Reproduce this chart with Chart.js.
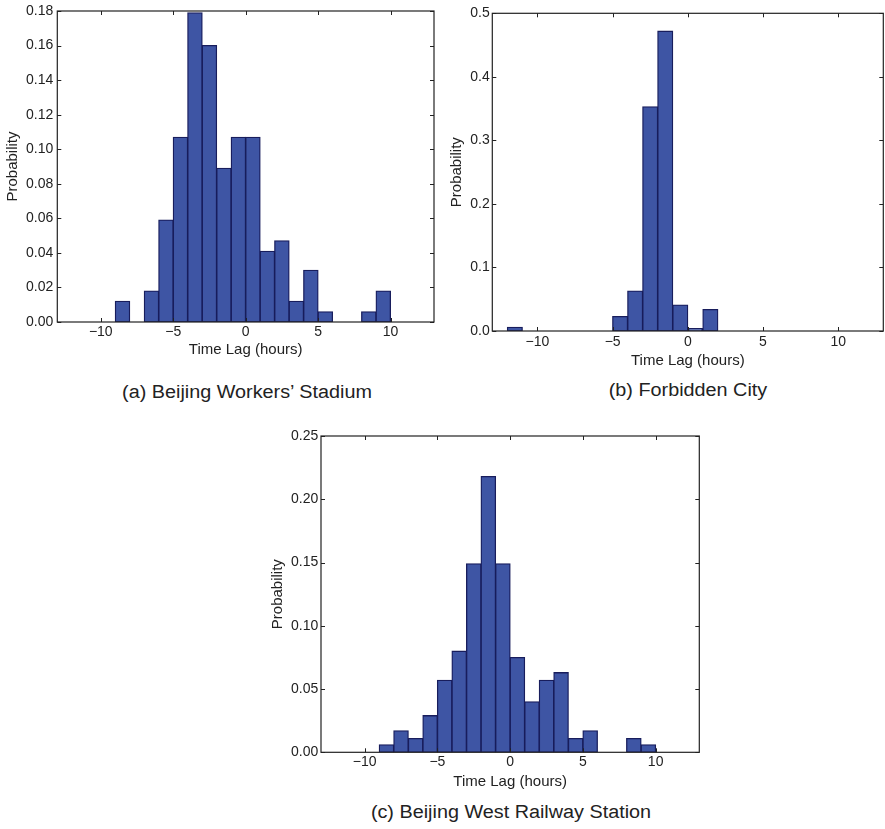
<!DOCTYPE html>
<html>
<head>
<meta charset="utf-8">
<script src="https://cdn.jsdelivr.net/npm/chart.js@4.4.1/dist/chart.umd.min.js"></script>
<style>
  body { margin: 0; background: #fff; }
  #page { position: relative; width: 885px; height: 829px; overflow: hidden; font-family: "Liberation Sans", Arial, Helvetica, sans-serif; color: #222; }
  .panel { position: absolute; }
  .cap { position: absolute; font-size: 18px; white-space: nowrap; transform: translate(-50%, -50%) scaleX(1.1); }
</style>
</head>
<body>
<div id="page">
  <div class="panel" style="left:0;top:0;width:440px;height:360px"><canvas id="chartA"></canvas></div>
  <div class="panel" style="left:440px;top:0;width:445px;height:370px"><canvas id="chartB"></canvas></div>
  <div class="panel" style="left:260px;top:420px;width:450px;height:371px"><canvas id="chartC"></canvas></div>
  <div class="cap" style="left:247px;top:392px">(a) Beijing Workers’ Stadium</div>
  <div class="cap" style="left:688px;top:390px">(b) Forbidden City</div>
  <div class="cap" style="left:511px;top:812px">(c) Beijing West Railway Station</div>
</div>
<script>
// bin centres, 1 hour wide bins from -13 to 13
const lagBins = [-12.5, -11.5, -10.5, -9.5, -8.5, -7.5, -6.5, -5.5, -4.5, -3.5, -2.5, -1.5, -0.5,
                 0.5, 1.5, 2.5, 3.5, 4.5, 5.5, 6.5, 7.5, 8.5, 9.5, 10.5, 11.5, 12.5];

// (a) Beijing Workers' Stadium
const probWorkers = [0, 0, 0, 0, 0.012, 0, 0.018, 0.059, 0.107, 0.179, 0.160, 0.089, 0.107,
                     0.107, 0.041, 0.047, 0.012, 0.030, 0.006, 0, 0, 0.006, 0.018, 0, 0, 0];
// (b) Forbidden City
const probForbidden = [0, 0.006, 0, 0, 0, 0, 0, 0, 0.023, 0.063, 0.353, 0.472, 0.041,
                       0.004, 0.034, 0, 0, 0, 0, 0, 0, 0, 0, 0, 0, 0];
// (c) Beijing West Railway Station
const probWestRail = [0, 0, 0, 0, 0.006, 0.017, 0.011, 0.029, 0.057, 0.080, 0.149, 0.218, 0.149,
                      0.075, 0.040, 0.057, 0.063, 0.011, 0.017, 0, 0, 0.011, 0.006, 0, 0, 0];

const xTicks = [-10, -5, 0, 5, 10];
const yTicksA = [0, 0.02, 0.04, 0.06, 0.08, 0.10, 0.12, 0.14, 0.16, 0.18];
const yTicksB = [0, 0.1, 0.2, 0.3, 0.4, 0.5];
const yTicksC = [0, 0.05, 0.10, 0.15, 0.20, 0.25];

const FILL = "#3e55a4";
const EDGE = "#181d5c";
const INK = "#222";

Chart.defaults.font.family = '"Liberation Sans", Arial, Helvetica, sans-serif';
Chart.defaults.color = INK;

// matplotlib style frame with inward ticks on all four sides
const frameTicksPlugin = {
  id: "frameTicks",
  afterDraw(chart) {
    const { ctx, chartArea: a, scales } = chart;
    const len = 4;
    ctx.save();
    ctx.strokeStyle = INK;
    ctx.lineWidth = 1;
    ctx.beginPath();
    for (const t of scales.x.ticks) {
      const x = Math.round(scales.x.getPixelForValue(t.value)) + 0.5;
      ctx.moveTo(x, a.bottom); ctx.lineTo(x, a.bottom - len);
      ctx.moveTo(x, a.top); ctx.lineTo(x, a.top + len);
    }
    for (const t of scales.y.ticks) {
      const y = Math.round(scales.y.getPixelForValue(t.value)) + 0.5;
      ctx.moveTo(a.left, y); ctx.lineTo(a.left + len, y);
      ctx.moveTo(a.right, y); ctx.lineTo(a.right - len, y);
    }
    ctx.stroke();
    ctx.lineWidth = 1.2;
    ctx.strokeRect(a.left, a.top, a.right - a.left, a.bottom - a.top);
    ctx.restore();
  }
};

function minus(v) {
  return v < 0 ? "\u2212" + Math.abs(v) : String(v);
}

function makeHist(id, probs, yTicks, decimals, lay) {
  new Chart(document.getElementById(id), {
    type: "bar",
    data: {
      datasets: [{
        data: lagBins.map((x, i) => ({ x, y: probs[i] })),
        backgroundColor: FILL,
        borderColor: EDGE,
        borderWidth: 1.3,
        borderSkipped: false,
        inflateAmount: 0.5,
        barPercentage: 1,
        categoryPercentage: 1
      }]
    },
    options: {
      animation: false,
      responsive: true,
      maintainAspectRatio: false,
      layout: { padding: { top: lay.top, right: lay.right, left: 0, bottom: 0 } },
      plugins: { legend: { display: false }, tooltip: { enabled: false } },
      scales: {
        x: {
          type: "linear",
          min: -13, max: 13,
          offset: false,
          grid: { display: false, drawTicks: false },
          border: { display: false },
          afterBuildTicks: s => { s.ticks = xTicks.map(v => ({ value: v })); },
          afterFit: s => { s.height = lay.xh; },
          ticks: { padding: lay.xpad, font: { size: 14, lineHeight: 1 }, color: INK, callback: v => minus(v), maxRotation: 0 },
          title: { display: true, text: "Time Lag (hours)", color: INK, font: { size: 15, lineHeight: 1 }, padding: { top: 0, bottom: lay.tpad } }
        },
        y: {
          min: 0, max: yTicks[yTicks.length - 1],
          grid: { display: false, drawTicks: false },
          border: { display: false },
          afterBuildTicks: s => { s.ticks = yTicks.map(v => ({ value: v })); },
          afterFit: s => { s.width = lay.yw; },
          ticks: { padding: lay.ypad, font: { size: 14, lineHeight: 1 }, color: INK, callback: v => v.toFixed(decimals) },
          title: { display: true, text: "Probability", color: INK, font: { size: 15, lineHeight: 1 }, padding: { top: lay.ytpad, bottom: 0 } }
        }
      }
    },
    plugins: [frameTicksPlugin]
  });
}

makeHist("chartA", probWorkers, yTicksA, 2, { top: 8, right: 6, xh: 38, xpad: 3, tpad: 2.5, yw: 57.3, ypad: 4, ytpad: 5.5 });
makeHist("chartB", probForbidden, yTicksB, 1, { top: 13.3, right: 1.7, xh: 39, xpad: 3.7, tpad: 1.5, yw: 52.3, ypad: 2.5, ytpad: 9.2 });
makeHist("chartC", probWestRail, yTicksC, 2, { top: 16, right: 10.7, xh: 38.7, xpad: 2.4, tpad: 1.8, yw: 61, ypad: 2.7, ytpad: 10.5 });
</script>
</body>
</html>
